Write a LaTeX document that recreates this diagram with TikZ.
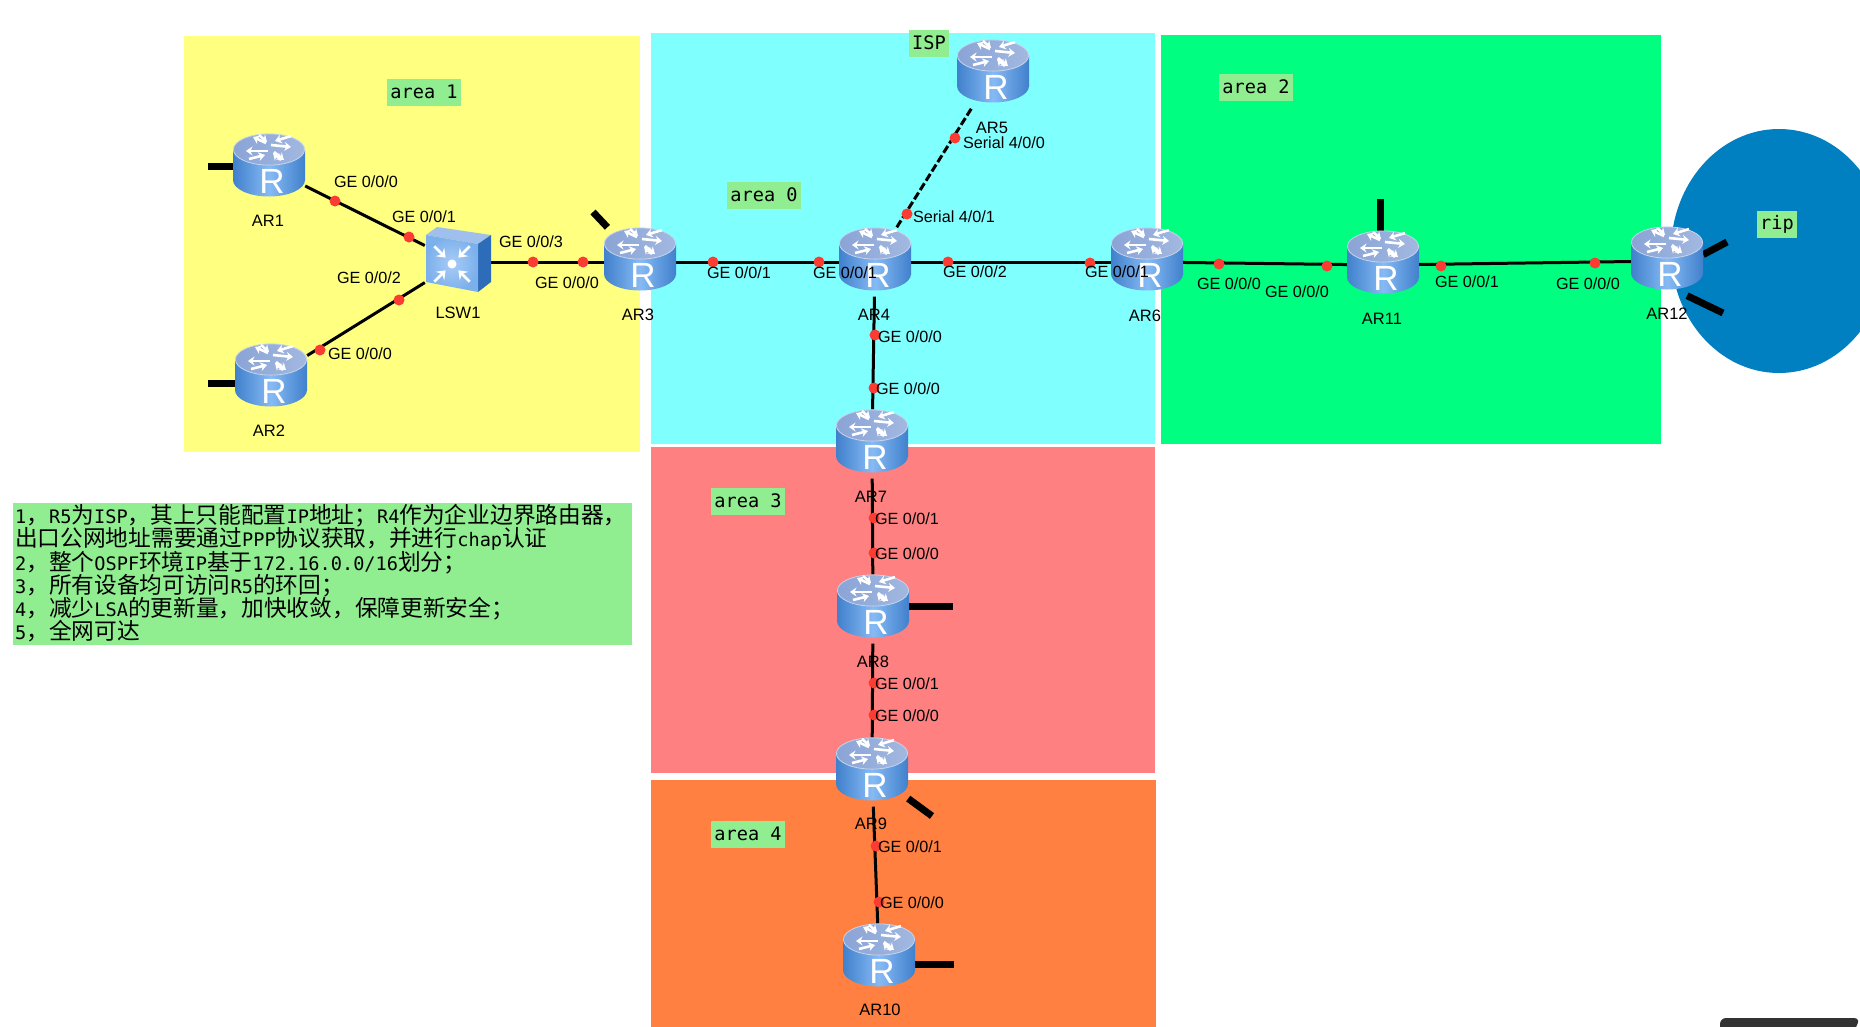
\documentclass[tikz,border=0pt]{standalone}
\usepackage{fontspec}
\setmainfont{Liberation Sans}
\newfontfamily\monofont{DejaVu Sans Mono}
\newfontfamily\cjkfont{Noto Sans CJK SC}
\newcommand{\zh}[1]{{\cjkfont\fontsize{22.7}{23}\selectfont #1}}
\usepackage{xcolor}
\usetikzlibrary{arrows.meta,positioning,backgrounds}
\definecolor{areayellow}{HTML}{FFFF80}
\definecolor{areacyan}{HTML}{80FFFF}
\definecolor{areagreen}{HTML}{00FF80}
\definecolor{areared}{HTML}{FF8080}
\definecolor{areaorange}{HTML}{FF8040}
\definecolor{ripblue}{HTML}{0080C0}
\definecolor{tagfill}{HTML}{90EE90}
\definecolor{dotred}{HTML}{FA3C32}
\definecolor{rtedge}{HTML}{4080CC}
\definecolor{rtmid}{HTML}{86BAF4}
\definecolor{rttopa}{HTML}{8AA4D6}
\definecolor{rttopb}{HTML}{A2B8E0}
\definecolor{swtop}{HTML}{9FC0EC}
\definecolor{swside}{HTML}{2C6CB8}
\definecolor{swlight}{HTML}{A8CCF6}
\definecolor{swedge}{HTML}{7CB0EC}
\tikzset{
  routerpic/.pic={
    \begin{scope}[shift={(0,-3)}]
    \shade[left color=rtedge,right color=rtedge,middle color=rtmid] (0,15) ellipse [x radius=36,y radius=16.5];
    \shade[left color=rtedge,right color=rtedge,middle color=rtmid] (-36,-15.5) rectangle (36,15);
    \shade[left color=rttopa,right color=rttopb,draw=rttopb!60!white,line width=0.8] (0,-15.5) ellipse [x radius=35.6,y radius=15.6];
    \begin{scope}[shift={(1,-17)}]
    \foreach \ax/\ay/\bx/\by in {1/-3/21/-1,-2/3/-24/3,-4/-5/-17/-11,4/4/14/12,21/-12/5/-7,-21/11/-5/7,-11/-13/-3/-6,11/12/3/5}
      \draw[white,line width=2.6,-{Stealth[length=6.5,width=9]}] (\ax,\ay)--(\bx,\by);
    \end{scope}
    \node[white,inner sep=0,font=\fontsize{35}{35}\selectfont] (Rmark) at (3,16) {R};
    \end{scope}},
  switchpic/.pic={
    \fill[swtop] (-32,-27)--(-21,-35)--(33,-27)--(20,-18)--cycle;
    \fill[swside] (20,-18)--(33,-27)--(33,20)--(20,30)--cycle;
    \shade[inner color=swlight,outer color=swedge] (-32,-27)--(20,-18)--(20,30)--(-32,20)--cycle;
    \begin{scope}[shift={(-6,2)}]
    \fill[white] (0,0) circle (4.5);
    \foreach \a in {45,135,225,315}
      \draw[white,line width=2.6,-{Stealth[length=8,width=12,inset=3]}] (\a:25)--(\a:9);
    \end{scope}},
  router/.style={rectangle,minimum width=72,minimum height=69,inner sep=0},
  switch/.style={rectangle,minimum width=66,minimum height=70,inner sep=0},
  link/.style={line width=3,black},
  seriallink/.style={line width=3,black,dash pattern=on 8 off 3},
  stub/.style={line width=7,black},
  portdot/.style={circle,fill=dotred,minimum size=11,inner sep=0},
  portlabel/.style={inner sep=0,yshift=-1pt,font=\fontsize{16.2}{18}\selectfont},
  devlabel/.style={inner sep=0,yshift=-1.5pt,font=\fontsize{16.5}{18}\selectfont},
  areatag/.style={fill=tagfill,inner xsep=3.5,inner ysep=0,minimum height=27,font=\monofont\fontsize{18.6}{22}\selectfont},
}
\begin{document}
\begin{tikzpicture}[x=1pt,y=-1pt,>=Stealth]
\useasboundingbox (0,0) rectangle (1860,1026);
\begin{scope}[on background layer]
\fill[white] (0,0) rectangle (1860,1026);
\fill[areayellow] (184,36) rectangle (640,452);
\fill[areacyan] (651,33) rectangle (1155,444);
\fill[areagreen] (1161,35) rectangle (1661,444);
\fill[areared] (651,447) rectangle (1155,773);
\fill[areaorange] (651,780) rectangle (1156,1030);
\fill[ripblue] (1779,251) ellipse [x radius=108,y radius=122];
\end{scope}
\foreach \n/\x/\y in {AR1/269/168,AR2/271/378,AR3/640/262,AR4/875/262,AR5/993/74,AR6/1147/262,AR7/872/444,AR8/873/609,AR9/872/772,AR10/879/958,AR11/1383/265,AR12/1667/261}
  {\node[router] (\n) at (\x,\y) {}; \pic at (\x,\y) {routerpic};}
\node[switch] (LSW1) at (458,262) {}; \pic at (458,262) {switchpic};
\coordinate (s1) at (208,166); \coordinate (s2) at (208,383); \coordinate (s3) at (593,212);
\coordinate (s8) at (953,606); \coordinate (s9) at (932,816); \coordinate (s10) at (954,964);
\coordinate (s11) at (1380,199); \coordinate (s12a) at (1727,242); \coordinate (s12b) at (1723,313);
\begin{scope}[on background layer]
\draw[link] (AR1)--(LSW1); \draw[link] (AR2)--(LSW1); \draw[link] (LSW1)--(AR3);
\draw[link] (AR3)--(AR4); \draw[link] (AR4)--(AR6); \draw[link] (AR6)--(AR11); \draw[link] (AR11)--(AR12);
\draw[link] (AR4)--(AR7); \draw[link] (AR7)--(AR8); \draw[link] (AR8)--(AR9); \draw[link] (AR9)--(AR10);
\draw[seriallink] (AR4)--(AR5);
\draw[stub] (s1 -| AR1)--(s1); \draw[stub] (s2 -| AR2)--(s2); \draw[stub] (AR3)--(s3);
\draw[stub] (s8 -| AR8)--(s8); \draw[stub] (AR9)--(s9); \draw[stub] (s10 -| AR10)--(s10); \draw[stub] (s11 |- AR11)--(s11);
\draw[stub] (AR12.10)--(s12a); \draw[stub] (AR12.-60)--(s12b);
\end{scope}
\foreach \n/\px/\py/\lx/\ly/\t in {
  1/335/201/366/181/{GE 0/0/0},2/409/237/424/216/{GE 0/0/1},3/399/300/369/277/{GE 0/0/2},4/320/350/360/353/{GE 0/0/0},
  5/533/262/531/241/{GE 0/0/3},6/583/262/567/282/{GE 0/0/0},7/713/262/739/272/{GE 0/0/1},8/819/262/845/272/{GE 0/0/1},
  9/948/262/975/271/{GE 0/0/2},10/1090/263/1117/271/{GE 0/0/1},11/875/335/910/336/{GE 0/0/0},12/874/388/908/388/{GE 0/0/0},
  13/874/518/907/518/{GE 0/0/1},14/874/553/907/553/{GE 0/0/0},15/874/683/907/683/{GE 0/0/1},16/874/715/907/715/{GE 0/0/0},
  17/876/846/910/846/{GE 0/0/1},18/879/902/912/902/{GE 0/0/0},19/1219/264/1229/283/{GE 0/0/0},20/1327/266/1297/291/{GE 0/0/0},
  21/1441/266/1467/281/{GE 0/0/1},22/1595/263/1588/283/{GE 0/0/0},23/907/214/954/216/{Serial 4/0/1},24/955/138/1004/142/{Serial 4/0/0}}
  {\node[portdot] (p\n) at (\px,\py) {}; \node[portlabel] (t\n) at (\lx,\ly) {\t};}
\foreach \n/\x/\y in {AR1/268/219,AR2/269/429,LSW1/458/311,AR3/638/313,AR4/874/313,AR5/992/126,AR6/1145/314,AR7/871/495,AR8/873/660,AR9/871/822,AR10/880/1008,AR11/1382/317,AR12/1667/312}
  \node[devlabel] (l\n) at (\x,\y) {\n};
\node[areatag] (area1) at (424,92) {area 1};
\node[areatag] (area0) at (764,195) {area 0};
\node[areatag] (area2) at (1256,87) {area 2};
\node[areatag] (area3) at (748,501) {area 3};
\node[areatag] (area4) at (748,834) {area 4};
\node[areatag] (isp) at (929,43) {ISP};
\node[areatag] (rip) at (1777,224) {rip};
\node[fill=tagfill,anchor=north west,inner xsep=2,inner ysep=0,minimum width=619,minimum height=142,text width=615,align=left,font=\monofont\fontsize{18.6}{23}\selectfont] (notes) at (13,503) {1\zh{，}R5\zh{为}ISP\zh{，其上只能配置}IP\zh{地址；}R4\zh{作为企业边界路由器，}\\
\zh{出口公网地址需要通过}PPP\zh{协议获取，并进行}chap\zh{认证}\\
2\zh{，整个}OSPF\zh{环境}IP\zh{基于}172.16.0.0/16\zh{划分；}\\
3\zh{，所有设备均可访问}R5\zh{的环回；}\\
4\zh{，减少}LSA\zh{的更新量，加快收敛，保障更新安全；}\\
5\zh{，全网可达}\\[-18pt]\mbox{}};
\fill[black!80,rounded corners=6] (1720,1032)--(1720,1018)--(1860,1018)--(1854,1032)--cycle;
\end{tikzpicture}
\end{document}
